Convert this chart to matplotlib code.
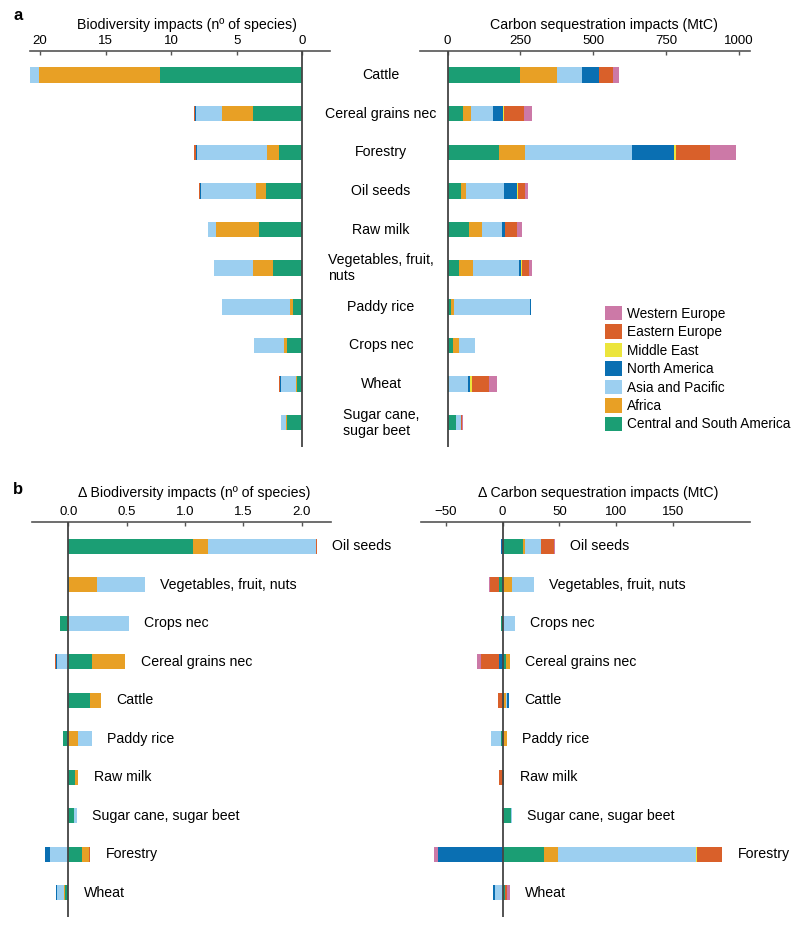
import numpy as np
import matplotlib
matplotlib.use("Agg")
import matplotlib.pyplot as plt
from matplotlib.patches import Patch
from matplotlib.transforms import blended_transform_factory

plt.rcParams['font.family'] = ['Liberation Sans', 'DejaVu Sans']

# ---------------- data ----------------
regions = ["Central and South America", "Africa", "Asia and Pacific",
           "North America", "Middle East", "Eastern Europe", "Western Europe"]
colors = ["#1b9e74", "#e8a025", "#9ccff0", "#0a6fb2", "#ece53c", "#d9602a", "#cc79a7"]

cats_a = ["Cattle", "Cereal grains nec", "Forestry", "Oil seeds", "Raw milk",
          "Vegetables, fruit,\nnuts", "Paddy rice", "Crops nec", "Wheat",
          "Sugar cane,\nsugar beet"]
# rows = categories (cats_a), columns = regions
bio_a = [
    [10.85, 9.25, 0.70, 0.05, 0.00, 0.00, 0.00],
    [3.80, 2.35, 1.95, 0.07, 0.00, 0.08, 0.00],
    [1.78, 0.92, 5.35, 0.10, 0.00, 0.08, 0.00],
    [2.77, 0.79, 4.20, 0.05, 0.00, 0.08, 0.02],
    [3.28, 3.28, 0.62, 0.00, 0.00, 0.00, 0.00],
    [2.27, 1.52, 2.93, 0.03, 0.00, 0.00, 0.00],
    [0.69, 0.28, 5.19, 0.00, 0.00, 0.00, 0.00],
    [1.17, 0.26, 2.23, 0.00, 0.00, 0.00, 0.00],
    [0.40, 0.06, 1.20, 0.07, 0.00, 0.05, 0.03],
    [1.20, 0.03, 0.40, 0.00, 0.00, 0.00, 0.00],
]
carb_a = [
    [248, 127, 87, 59, 0, 45, 21],
    [54, 26, 76, 34, 2, 71, 25],
    [177, 88, 368, 144, 6, 119, 87],
    [46, 18, 131, 43, 2, 27, 9],
    [73, 45, 67, 12, 0, 41, 16],
    [38, 49, 159, 6, 3, 24, 9],
    [10, 11, 263, 3, 0, 0, 0],
    [19, 20, 54, 0, 0, 0, 0],
    [6, 0, 63, 8, 5, 59, 28],
    [27, 1, 17, 0, 0, 5, 1],
]

cats_b = ["Oil seeds", "Vegetables, fruit, nuts", "Crops nec", "Cereal grains nec",
          "Cattle", "Paddy rice", "Raw milk", "Sugar cane, sugar beet",
          "Forestry", "Wheat"]
bio_b = [
    [1.070, 0.124, 0.926, 0.000, 0.000, 0.010, 0.000],
    [0.010, 0.240, 0.404, 0.000, 0.000, 0.000, 0.000],
    [-0.070, 0.010, 0.510, 0.000, 0.000, 0.000, 0.000],
    [0.203, 0.286, -0.094, -0.009, 0.000, -0.007, 0.000],
    [0.186, 0.091, -0.014, 0.000, 0.000, 0.000, 0.000],
    [-0.043, 0.086, 0.117, 0.000, 0.000, 0.000, 0.000],
    [0.054, 0.032, 0.000, 0.000, 0.000, 0.000, 0.000],
    [0.051, 0.000, 0.023, 0.000, 0.000, 0.000, 0.000],
    [0.120, 0.060, -0.157, -0.046, 0.000, 0.010, 0.000],
    [-0.026, -0.008, -0.060, -0.009, 0.000, 0.000, 0.000],
]
carb_b = [
    [18.0, 1.9, 14.0, -1.0, 0.0, 11.0, 1.3],
    [-3.0, 8.2, 19.4, 0.0, 0.0, -8.1, -1.2],
    [-1.2, 0.5, 10.5, 0.0, 0.0, 0.0, 0.0],
    [2.6, 3.8, 0.0, -3.2, 0.0, -15.8, -3.8],
    [1.2, 1.8, 0.6, 2.0, 0.0, -4.4, 0.0],
    [-1.5, 3.8, -8.5, 0.0, 0.0, 0.0, 0.0],
    [1.5, 0.0, 0.0, 0.0, 0.0, -3.0, 0.0],
    [7.6, 0.0, 0.6, 0.0, 0.0, 0.0, -0.9],
    [36.4, 12.3, 122.0, -56.6, 0.9, 21.9, -3.5],
    [1.8, 0.0, -6.7, -1.5, 0.0, 2.3, 2.4],
]

ticks_bio_a = [0, 5, 10, 15, 20]
ticks_carb_a = [0, 250, 500, 750, 1000]
ticks_bio_b = [0.0, 0.5, 1.0, 1.5, 2.0]
ticks_carb_b = [-50, 0, 50, 100, 150]

# ---------------- figure ----------------
W, H = 800, 927
fig = plt.figure(figsize=(W / 100, H / 100), dpi=100)


def px_axes(l, t, r, b):
    return fig.add_axes([l / W, 1 - b / H, (r - l) / W, (b - t) / H])


def stacked(ax, data):
    arr = np.array(data, dtype=float)
    n = arr.shape[0]
    y = np.arange(n)
    pos = np.zeros(n)
    neg = np.zeros(n)
    for j in range(arr.shape[1]):
        v = arr[:, j]
        left = np.where(v >= 0, pos, neg)
        ax.barh(y, v, left=left, height=0.4, color=colors[j], linewidth=0, zorder=2)
        pos = pos + np.clip(v, 0, None)
        neg = neg + np.clip(v, None, 0)
    return pos, neg


def style(ax, ticks, xlim, fmt=None):
    ax.set_xlim(*xlim)
    ax.set_ylim(len(cats_a) - 1 + 0.63, -0.63)
    for s in ["left", "right", "bottom"]:
        ax.spines[s].set_visible(False)
    ax.spines["top"].set_color("#555555")
    ax.spines["top"].set_linewidth(1.2)
    ax.set_yticks([])
    ax.set_xticks(ticks)
    if fmt:
        ax.set_xticklabels([fmt.format(t) for t in ticks])
    ax.tick_params(axis="x", top=True, bottom=False, labeltop=True, labelbottom=False,
                   direction="in", length=3, width=1, color="#555555", pad=3, labelsize=9.5)
    ax.axvline(0, color="#444444", lw=1.3, zorder=3)
    ax.patch.set_alpha(0)


# panel a
ax1 = px_axes(30, 50.7, 330, 447)
stacked(ax1, bio_a)
style(ax1, ticks_bio_a, (20.77, -2.1))

ax2 = px_axes(420, 50.7, 750, 447)
stacked(ax2, carb_a)
style(ax2, ticks_carb_a, (-95, 1038))

tr = blended_transform_factory(fig.transFigure, ax1.transData)
for i, c in enumerate(cats_a):
    ax1.text(381 / W, i, c, transform=tr, ha="center", va="center",
             multialignment="left", fontsize=10.2, clip_on=False)

# panel b
ax3 = px_axes(32, 522, 331, 917)
pos3, _ = stacked(ax3, bio_b)
style(ax3, ticks_bio_b, (-0.311, 2.251), fmt="{:.1f}")

ax4 = px_axes(421, 522, 750, 917)
pos4, _ = stacked(ax4, carb_b)
style(ax4, ticks_carb_b, (-71.9, 217.9))

for ax, pos in ((ax3, pos3), (ax4, pos4)):
    for i, c in enumerate(cats_b):
        ax.annotate(c, xy=(max(pos[i], 0), i), xytext=(11, 0), textcoords="offset points",
                    ha="left", va="center", fontsize=10.2, annotation_clip=False)

# axis titles
fig.text(187 / W, 1 - 25 / H, "Biodiversity impacts (nº of species)", ha="center", va="center", fontsize=10.2)
fig.text(604 / W, 1 - 25 / H, "Carbon sequestration impacts (MtC)", ha="center", va="center", fontsize=10.2)
fig.text(194 / W, 1 - 493 / H, "Δ Biodiversity impacts (nº of species)", ha="center", va="center", fontsize=10.2)
fig.text(598 / W, 1 - 493 / H, "Δ Carbon sequestration impacts (MtC)", ha="center", va="center", fontsize=10.2)

# panel letters
fig.text(18 / W, 1 - 15 / H, "a", fontweight="bold", fontsize=12, ha="center", va="center")
fig.text(18 / W, 1 - 490 / H, "b", fontweight="bold", fontsize=12, ha="center", va="center")

# legend
handles = [Patch(facecolor=colors[j], edgecolor="none") for j in range(len(regions))][::-1]
labels = regions[::-1]
fig.legend(handles, labels, loc="upper left", bbox_to_anchor=(605 / W, 1 - 306 / H),
           frameon=False, fontsize=9.8, handlelength=1.25, handleheight=1.25,
           handletextpad=0.35, labelspacing=0.27, borderpad=0, borderaxespad=0)

fig.savefig("out.png", dpi=100)
